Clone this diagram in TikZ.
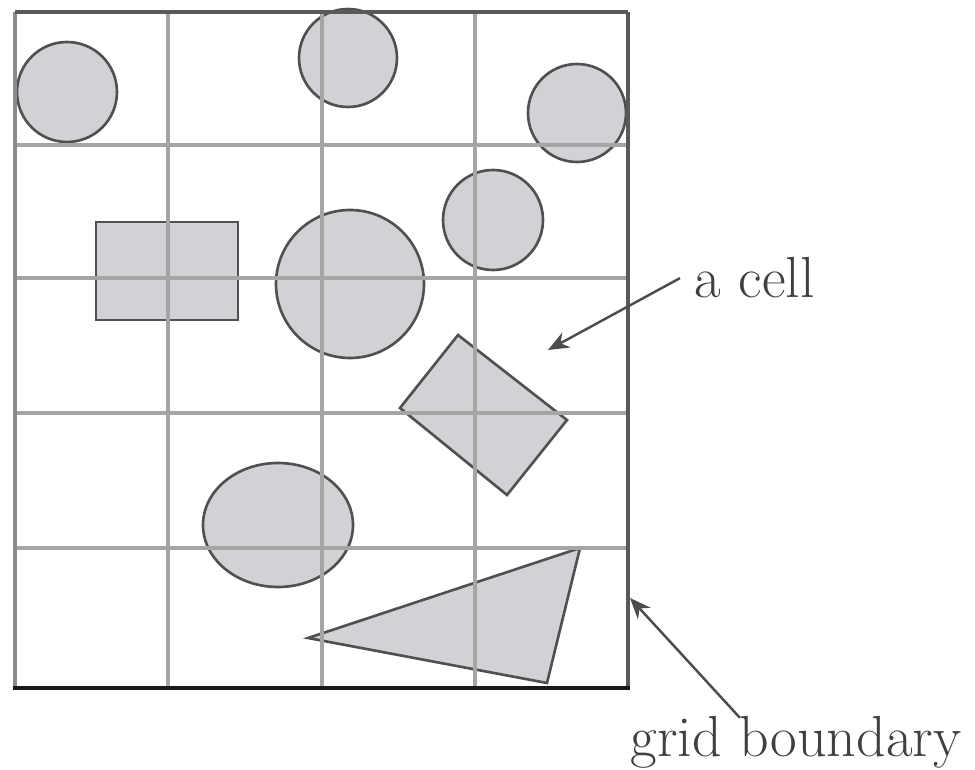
\documentclass[tikz,border=0pt]{standalone}
\usepackage{tikz}
\usetikzlibrary{arrows.meta, calc}
\definecolor{blobfill}{RGB}{209,210,213}
\definecolor{blobline}{RGB}{80,80,80}
\definecolor{gridgray}{RGB}{165,165,165}
\tikzset{
  blob/.style={fill=blobfill, draw=blobline, line width=1.5pt},
  gridline/.style={draw=gridgray, line width=2.4pt},
  arrow/.style={-{Stealth[length=0.42cm, width=0.34cm]}, line width=1.4pt, black!70},
  label/.style={font=\fontsize{33}{38}\selectfont, text=black!75, inner xsep=8pt, inner ysep=2pt}
}

\begin{document}
\begin{tikzpicture}[x=0.02cm, y=-0.02cm]
% 1 unit = 1 pixel of the 975 x 770 frame, y downwards
\useasboundingbox (0,0) rectangle (975,770);
% objects
\draw[blob] (67,92) circle (50);
\draw[blob] (348,58) circle (49);
\draw[blob] (577,113) circle (49);
\draw[blob] (493,220) circle (50);
\draw[blob] (350,284) circle (74);
\draw[blob] (96,222) rectangle (238,320);
\draw[blob] (278,525) ellipse (75 and 62);
\draw[blob] (458,335) -- (567,420) -- (507,495) -- (400,408) -- cycle;
\draw[blob] (308,638) -- (580,548) -- (547,683) -- cycle;
% cells
\foreach \gx in {168,322,475}
  \draw[gridline] (\gx,12) -- (\gx,688);
\foreach \gy in {145,278,413,548}
  \draw[gridline] (15,\gy) -- (628,\gy);
% boundary
\draw[black!45, line width=2.8pt] (15,12) -- (15,688);
\draw[black!65, line width=2pt] (15,12) -- (628,12);
\draw[black!65, line width=2.4pt] (628,12) -- (628,688);
\draw[black!90, line width=2.8pt] (13,688) -- (630,688);
% labels
\node[label, anchor=base west] (cell) at (680,298) {a cell};
\node[label, anchor=base] (bnd) at (796,756) {grid boundary};
\coordinate (celltip) at (548,350);
\coordinate (bndtip) at (630,598);
\draw[arrow] (cell.west) -- (celltip);
\draw[arrow] ($(bnd.north)+(-56,6)$) -- (bndtip);
\end{tikzpicture}
\end{document}
